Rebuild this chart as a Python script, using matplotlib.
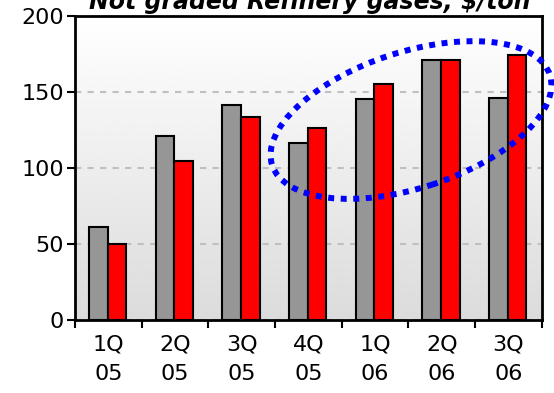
import numpy as np
import matplotlib
matplotlib.use("Agg")
import matplotlib.pyplot as plt
from matplotlib.patches import Ellipse

categories = ["1Q\n05", "2Q\n05", "3Q\n05", "4Q\n05", "1Q\n06", "2Q\n06", "3Q\n06"]
series_gray = [61, 121, 141, 116, 145, 171, 146]
series_red = [50, 104, 133, 126, 155, 171, 174]
yticks = [0, 50, 100, 150, 200]
title = "Not graded Refinery gases, $/ton"

plt.rcParams['font.family'] = ['DejaVu Sans']

fig = plt.figure(figsize=(5.54, 3.93), dpi=100)
ax = fig.add_axes([75/554, 1-319.5/393, (541.7-75)/554, (319.5-15.5)/393])

# gradient background
grad = np.linspace(1.0, 0.86, 256).reshape(-1, 1)
ax.imshow(grad, extent=[0, 1, 0, 1], transform=ax.transAxes, cmap='gray',
          vmin=0, vmax=1, aspect='auto', zorder=0)

x = np.arange(len(categories))
w = 0.28
ax.bar(x - w/2 - 0.01, series_gray, width=w, color='#969696', edgecolor='black',
       linewidth=1.5, zorder=3)
ax.bar(x + w/2 - 0.01, series_red, width=w, color='#ff0000', edgecolor='black',
       linewidth=1.5, zorder=3)

ax.set_xlim(-0.5, len(categories) - 0.5)
ax.set_ylim(0, 200)
ax.set_yticks(yticks)
ax.set_yticklabels([str(v) for v in yticks], fontsize=16)
ax.yaxis.grid(True, color='#c0c0c0', linestyle=(0, (3, 3)), linewidth=1.5, zorder=1)
ax.set_axisbelow(True)

ax.set_xticks(x)
ax.set_xticklabels(categories, fontsize=16, linespacing=1.55)
ax.tick_params(axis='x', which='major', length=0, pad=11)
ax.set_xticks(np.arange(len(categories) + 1) - 0.5, minor=True)
ax.tick_params(axis='x', which='minor', length=6, width=1.5, direction='out')
ax.tick_params(axis='y', length=6, width=1.5, direction='out', pad=2)

for s in ax.spines.values():
    s.set_linewidth(2)
    s.set_color('black')
    s.set_zorder(5)

fig.text(310/554, 1 - 9/393, title, fontsize=17, fontweight='bold',
         fontstyle='italic', ha='center', va='baseline')

ell = Ellipse((4.11, 3.93 - 1.20), 2.92, 1.36, angle=18,
              transform=fig.dpi_scale_trans, fill=False, edgecolor='#0000ff',
              linewidth=4.3, linestyle=(0, (1, 1.1)), clip_on=False, zorder=10)
ell.set_capstyle('butt')
fig.add_artist(ell)

fig.savefig("out.png", dpi=100)
